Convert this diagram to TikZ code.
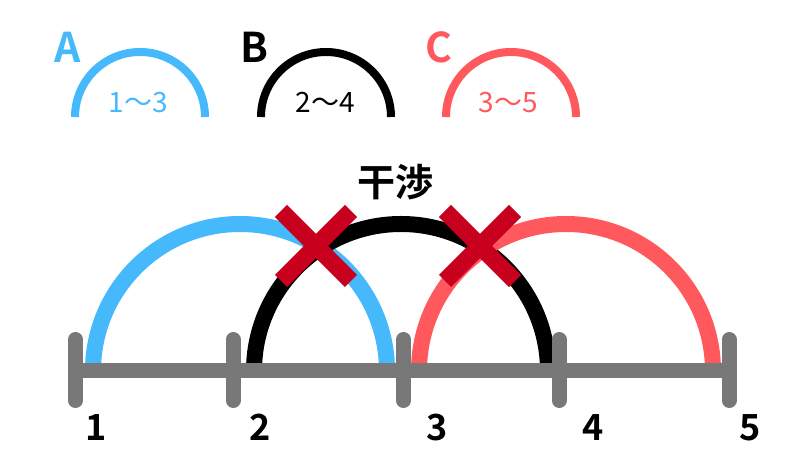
\documentclass[tikz,border=0pt]{standalone}
\usepackage{fontspec}
\setmainfont{Noto Sans CJK JP}[BoldFont={Noto Sans CJK JP Bold}]
\definecolor{skyA}{HTML}{45B9FC}
\definecolor{redC}{HTML}{FF595E}
\definecolor{crossred}{HTML}{C8001E}
\definecolor{axisgray}{HTML}{787878}
\def\fs#1{\fontsize{#1}{#1}\selectfont}

\begin{document}
\begin{tikzpicture}[x=1pt,y=1pt,
    bigarc/.style={line width=16pt},
    smallarc/.style={line width=8pt},
    crossbar/.style={crossred,line width=17pt,rounded corners=2pt},
    axisline/.style={axisgray,line width=15pt},
    legendletter/.style={anchor=base,font=\fs{41}\bfseries},
    rangelabel/.style={anchor=base,font=\fs{28}},
    numlabel/.style={anchor=base,font=\fs{36}\bfseries}]
  \useasboundingbox (0,0) rectangle (800,454);
  % legend
  \node[legendletter,skyA] (A) at (68,391) {A};
  \node[legendletter] (B) at (254,391) {B};
  \node[legendletter,redC] (C) at (439,391) {C};
  \draw[smallarc,skyA] (75,337) arc[start angle=180,end angle=0,radius=65];
  \draw[smallarc] (261,337) arc[start angle=180,end angle=0,radius=65];
  \draw[smallarc,redC] (446,337) arc[start angle=180,end angle=0,radius=65];
  \node[rangelabel,skyA] (rA) at (138,341) {1～3};
  \node[rangelabel] (rB) at (325,341) {2～4};
  \node[rangelabel,redC] (rC) at (508,341) {3～5};
  % big arcs
  \draw[bigarc,skyA] (93,83) arc[start angle=180,end angle=0,radius=147];
  \draw[bigarc] (254,83) arc[start angle=180,end angle=0,radius=147];
  \draw[bigarc,redC] (419,83) arc[start angle=180,end angle=0,radius=147];
  % axis
  \foreach \x/\n/\lx in {75.5/1/96, 233/2/260, 403.5/3/437, 559/4/593, 729/5/750}{
    \coordinate (t\n) at (\x,83);
    \draw[axisline,line cap=round] (\x,53.5) -- (\x,114.5);
    \node[numlabel] (lab\n) at (\lx,13) {\n};
  }
  \draw[axisline] (t1) -- (t5);
  % interference
  \node[font=\fs{38}\bfseries] (kansho) at (395,272) {干渉};
  \coordinate (x1) at (316,208);
  \coordinate (x2) at (480,208);
  \foreach \c in {x1,x2}{
    \draw[crossbar] (\c) ++(-35,-35) -- ++(70,70);
    \draw[crossbar] (\c) ++(-35,35) -- ++(70,-70);
  }
\end{tikzpicture}
\end{document}
